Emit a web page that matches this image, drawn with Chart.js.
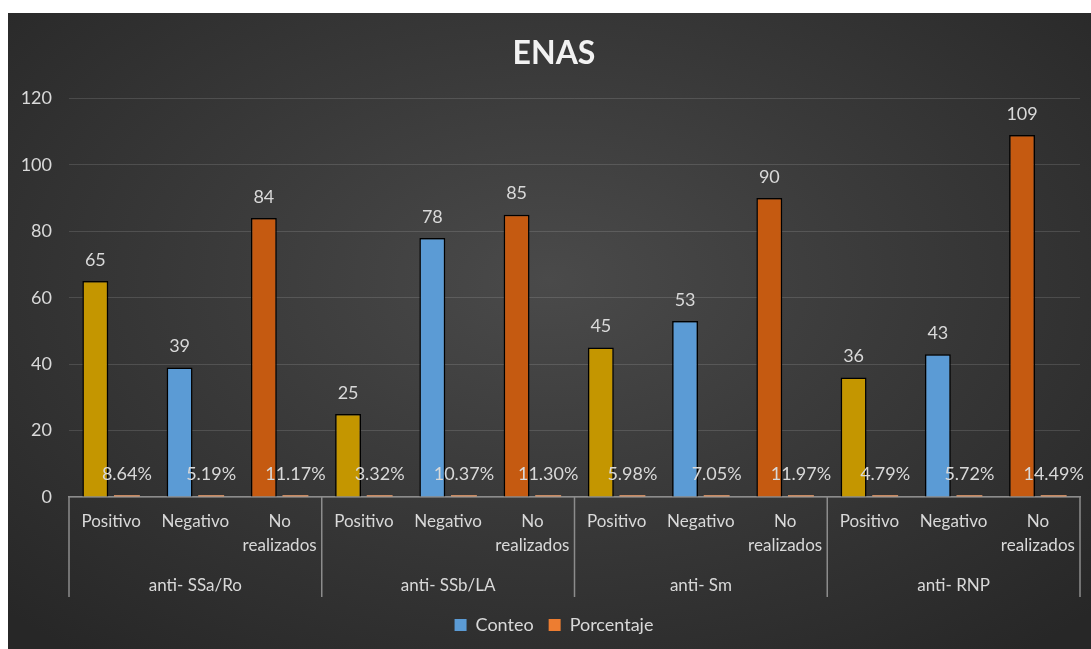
<!DOCTYPE html>
<html>
<head>
<meta charset="utf-8">
<script src="https://cdn.jsdelivr.net/npm/chart.js@4/dist/chart.umd.min.js"></script>
<style>
  html, body { margin: 0; padding: 0; background: #fff; }
  .ChartBox {
    position: absolute; left: 8px; top: 13px; width: 1083px; height: 636px;
    background: radial-gradient(ellipse 70% 75% at 50% 42%, #4a4a4a 0%, #3a3a3a 45%, #272727 100%);
  }
</style>
</head>
<body>
<div class="ChartBox"><canvas id="enas-chart"></canvas></div>
<script>
const groups = ["anti- SSa/Ro", "anti- SSb/LA", "anti- Sm", "anti- RNP"];
const subcategories = ["Positivo", "Negativo", "No realizados"];
const conteo = [65, 39, 84, 25, 78, 85, 45, 53, 90, 36, 43, 109];
const porcentaje = [0.0864, 0.0519, 0.1117, 0.0332, 0.1037, 0.1130, 0.0598, 0.0705, 0.1197, 0.0479, 0.0572, 0.1449];
const yTicks = { min: 0, max: 120, step: 20 };

const subColors = { "Positivo": "#C49600", "Negativo": "#5B9BD5", "No realizados": "#C55A11" };
const legendColors = { "Conteo": "#5B9BD5", "Porcentaje": "#ED7D31" };
const textColor = "#d9d9d9";
const font = "Lato";

const labels = groups.flatMap(() => subcategories);

// value labels above every bar
const barLabels = {
  id: "barLabels",
  afterDatasetsDraw(chart) {
    const ctx = chart.ctx;
    ctx.save();
    ctx.font = "18px " + font;
    ctx.fillStyle = textColor;
    ctx.textAlign = "center";
    ctx.textBaseline = "middle";
    chart.data.datasets.forEach((ds, di) => {
      chart.getDatasetMeta(di).data.forEach((bar, i) => {
        const v = ds.data[i];
        const txt = di === 0 ? String(v) : (v * 100).toFixed(2) + "%";
        ctx.fillText(txt, bar.x, bar.y - 21);
      });
    });
    ctx.restore();
  }
};

// vertical separators between the groups, spanning both label rows
const groupLines = {
  id: "groupLines",
  afterLayout(chart) {
    // title and legend sit a little right of the canvas centre in the original
    chart.titleBlock.left += 20;
    chart.legend.left += 20;
  },
  afterDraw(chart) {
    const xs = chart.scales.x, x2 = chart.scales.x2;
    const n = subcategories.length;
    const ctx = chart.ctx;
    ctx.save();
    ctx.strokeStyle = "#8c8c8c";
    ctx.lineWidth = 1.5;
    for (let g = 0; g <= groups.length; g++) {
      const b = g * n;
      let px;
      if (b === 0) px = xs.left;
      else if (b === labels.length) px = xs.right;
      else px = (xs.getPixelForTick(b - 1) + xs.getPixelForTick(b)) / 2;
      ctx.beginPath();
      ctx.moveTo(px, xs.top);
      ctx.lineTo(px, x2.bottom - 4);
      ctx.stroke();
    }
    ctx.restore();
  }
};

new Chart(document.getElementById("enas-chart"), {
  type: "bar",
  data: {
    labels: labels,
    datasets: [
      {
        label: "Conteo",
        data: conteo,
        backgroundColor: labels.map((l) => subColors[l]),
        borderColor: "#000",
        borderWidth: 1.5,
      },
      {
        label: "Porcentaje",
        data: porcentaje,
        backgroundColor: "rgba(237,160,110,0.8)",
        borderWidth: 0,
        minBarLength: 2,
      },
    ],
  },
  options: {
    responsive: true,
    maintainAspectRatio: false,
    animation: false,
    layout: { padding: { left: 0, right: 11, top: 0, bottom: 5 } },
    datasets: { bar: { categoryPercentage: 0.75, barPercentage: 0.82 } },
    plugins: {
      title: {
        display: true,
        text: "ENAS",
        color: "#f2f2f2",
        font: { family: font, size: 32, weight: "bold" },
        padding: { top: 21, bottom: 26 },
      },
      legend: {
        position: "bottom",
        labels: {
          color: textColor,
          font: { family: font, size: 18 },
          boxWidth: 12,
          boxHeight: 12,
          padding: 15,
          generateLabels: (chart) => chart.data.datasets.map((ds, i) => ({
            text: ds.label,
            fillStyle: legendColors[ds.label],
            strokeStyle: legendColors[ds.label],
            lineWidth: 0,
            fontColor: textColor,
            datasetIndex: i,
          })),
        },
      },
      tooltip: { enabled: false },
    },
    scales: {
      x: {
        grid: { display: false, drawTicks: false },
        border: { display: true, color: "#8c8c8c", width: 1.5 },
        ticks: {
          color: textColor,
          font: { family: font, size: 17, lineHeight: 1.4 },
          maxRotation: 0,
          autoSkip: false,
          padding: 13,
          callback: function (v) {
            const l = this.getLabelForValue(v);
            return l.indexOf(" ") > 0 ? l.split(" ") : l;
          },
        },
      },
      x2: {
        type: "category",
        labels: groups,
        position: "bottom",
        offset: true,
        grid: { display: false, drawTicks: false },
        border: { display: false },
        ticks: {
          color: textColor,
          font: { family: font, size: 17 },
          maxRotation: 0,
          padding: 5,
        },
      },
      y: {
        min: yTicks.min,
        max: yTicks.max,
        grid: { color: "rgba(255,255,255,0.13)", drawTicks: false },
        border: { display: false },
        afterFit: (scale) => { scale.width = 61; },
        ticks: {
          stepSize: yTicks.step,
          color: textColor,
          font: { family: font, size: 18 },
          padding: 17,
        },
      },
    },
  },
  plugins: [barLabels, groupLines],
});
</script>
</body>
</html>
